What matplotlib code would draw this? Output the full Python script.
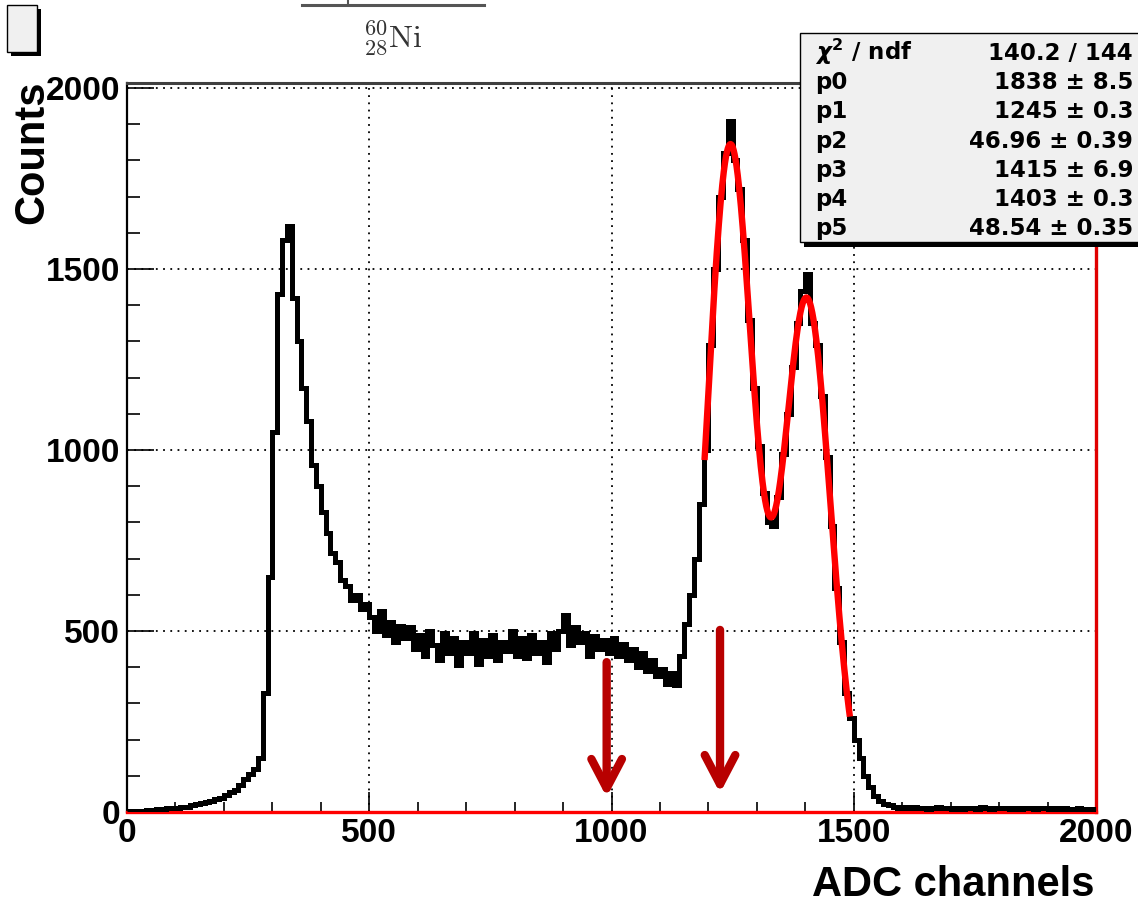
import numpy as np
import matplotlib
matplotlib.use("Agg")
import matplotlib.pyplot as plt
from matplotlib.patches import Rectangle
from matplotlib.lines import Line2D
from matplotlib.ticker import MultipleLocator, FixedLocator

# ---------------- data ----------------
bin_width = 10
counts = [
    3, 2, 4, 3, 6, 5, 8, 7, 10, 12,
    11, 15, 14, 18, 22, 25, 28, 30, 36, 40,
    48, 55, 62, 75, 90, 105, 118, 150, 330, 650,
    1050, 1430, 1580, 1620, 1420, 1300, 1170, 1080, 960, 900,
    830, 770, 715, 690, 640, 625, 585, 600, 560, 575,
    540, 500, 555, 490, 525, 470, 515, 480, 510, 450,
    490, 430, 500, 460, 420, 495, 440, 480, 405, 470,
    440, 495, 410, 475, 430, 490, 420, 470, 445, 500,
    430, 480, 425, 490, 440, 470, 415, 495, 450, 500,
    545, 460, 510, 470, 495, 430, 485, 450, 475, 440,
    480, 430, 465, 420, 450, 400, 440, 390, 420, 375,
    395, 355, 385, 350, 430, 520, 600, 700, 850, 1000,
    1290, 1500, 1700, 1820, 1910, 1800, 1720, 1580, 1360, 1170,
    1010, 880, 800, 790, 870, 990, 1100, 1230, 1350, 1440,
    1485, 1350, 1290, 1150, 980, 790, 620, 470, 330, 260,
    200, 150, 100, 68, 45, 30, 22, 18, 15, 12,
    13, 11, 14, 10, 12, 9, 11, 13, 10, 12,
    9, 11, 8, 12, 10, 9, 13, 10, 8, 11,
    10, 12, 9, 11, 8, 10, 12, 9, 11, 10,
    8, 10, 9, 11, 7, 9, 10, 8, 9, 7,
]
fit_params = [1838, 1245, 46.96, 1415, 1403, 48.54]
fit_range = [1192, 1492]
arrow_x = [990, 1224]
arrow_top = [414, 503]
arrow_tip = [41, 52]
x_ticks = [0, 500, 1000, 1500, 2000]
y_ticks = [0, 500, 1000, 1500, 2000]
stat_labels = [r"$\chi^{2}$ / ndf", "p0", "p1", "p2", "p3", "p4", "p5"]
stat_values = ["140.2 / 144", "1838 \u00b1 8.5", "1245 \u00b1 0.3",
               "46.96 \u00b1 0.39", "1415 \u00b1 6.9", "1403 \u00b1 0.3",
               "48.54 \u00b1 0.35"]
x_title = "ADC channels"
y_title = "Counts"

# ---------------- figure ----------------
W, H = 1138, 906
plt.rcParams["font.family"] = ["Liberation Sans", "DejaVu Sans"]
plt.rcParams["font.weight"] = "bold"

fig = plt.figure(figsize=(W / 100, H / 100), dpi=100)


def fx(x):
    return x / W


def fy(y):
    return 1 - y / H


ax = fig.add_axes([fx(127), fy(812), (1096 - 127) / W, (812 - 83) / H])

edges = np.arange(len(counts) + 1) * bin_width
ax.stairs(counts, edges, color="black", lw=3.6, baseline=None, zorder=3)

p0, p1, p2, p3, p4, p5 = fit_params
xf = np.linspace(fit_range[0], fit_range[1], 500)
yf = p0 * np.exp(-0.5 * ((xf - p1) / p2) ** 2) + p3 * np.exp(-0.5 * ((xf - p4) / p5) ** 2)
ax.plot(xf, yf, color="#ff0000", lw=4.6, zorder=4, solid_capstyle="butt")

for x, t, b in zip(arrow_x, arrow_top, arrow_tip):
    ax.annotate("", xy=(x, b), xytext=(x, t),
                arrowprops=dict(arrowstyle="->,head_length=1.05,head_width=0.55",
                                lw=6, color="#b80000", mutation_scale=20,
                                shrinkA=0, shrinkB=0),
                zorder=5)

ax.set_xlim(0, 2000)
ax.set_ylim(0, 2014)
ax.xaxis.set_major_locator(FixedLocator(x_ticks))
ax.yaxis.set_major_locator(FixedLocator(y_ticks))
ax.xaxis.set_minor_locator(MultipleLocator(100))
ax.yaxis.set_minor_locator(MultipleLocator(100))
ax.set_xticklabels([str(v) for v in x_ticks])
ax.set_yticklabels([str(v) for v in y_ticks])

ax.grid(True, which="major", color="black", linestyle=(0, (1, 3)), lw=1.3)
ax.tick_params(axis="x", which="major", direction="in", length=14.5, width=1.2,
               pad=4, labelsize=24, top=False)
ax.tick_params(axis="x", which="minor", direction="in", length=7, width=1.2, top=False)
ax.tick_params(axis="y", which="major", direction="in", length=19.5, width=1.2,
               pad=5, labelsize=24, right=False)
ax.tick_params(axis="y", which="minor", direction="in", length=9.5, width=1.2, right=False)
for lab in ax.get_xticklabels() + ax.get_yticklabels():
    lab.set_fontweight("bold")

ax.spines["left"].set_linewidth(1.6)
ax.spines["left"].set_color("black")
ax.spines["top"].set_linewidth(2.2)
ax.spines["top"].set_color("#404040")
ax.spines["right"].set_linewidth(2.4)
ax.spines["right"].set_color("#e00000")
ax.spines["bottom"].set_linewidth(2.4)
ax.spines["bottom"].set_color("#ff0000")

# axis titles
fig.text(fx(32), fy(80), y_title, rotation=90, ha="center", va="top",
         fontsize=30, fontweight="bold")
fig.text(fx(1095), fy(905), x_title, ha="right", va="bottom",
         fontsize=30, fontweight="bold")

# top decoration (cropped level scheme)
fig.add_artist(Line2D([fx(302), fx(484)], [fy(5), fy(5)], transform=fig.transFigure,
                      color="#555555", lw=2.2))
fig.add_artist(Line2D([fx(348), fx(348)], [fy(0), fy(5)], transform=fig.transFigure,
                      color="#555555", lw=1.5))
fig.text(fx(393), fy(47), r"$^{60}_{28}\mathrm{Ni}$", ha="center", va="baseline",
         fontsize=23, color="#333333", math_fontfamily="cm")

# top-left small box with shadow
fig.add_artist(Rectangle((fx(11), fy(56)), 30 / W, 47 / H, transform=fig.transFigure,
                         facecolor="black", edgecolor="black", lw=0))
fig.add_artist(Rectangle((fx(7), fy(52)), 30 / W, 47 / H, transform=fig.transFigure,
                         facecolor="#f0f0f0", edgecolor="black", lw=1.0))

# stat box with shadow
fig.add_artist(Rectangle((fx(804), fy(247)), (1145 - 804) / W, (247 - 37) / H,
                         transform=fig.transFigure, facecolor="black", lw=0, zorder=5))
fig.add_artist(Rectangle((fx(800), fy(242)), (1141 - 800) / W, (242 - 33) / H,
                         transform=fig.transFigure, facecolor="#f0f0f0",
                         edgecolor="black", lw=1.0, zorder=6))
baselines = [60 + i * 29.17 for i in range(len(stat_labels))]
for lab, val, b in zip(stat_labels, stat_values, baselines):
    fig.text(fx(815), fy(b), lab, ha="left", va="baseline", fontsize=16.5,
             fontweight="bold", family="DejaVu Sans", zorder=7)
    fig.text(fx(1133), fy(b), val, ha="right", va="baseline", fontsize=16.5,
             fontweight="bold", family="DejaVu Sans", zorder=7)

fig.savefig("out.png", dpi=100)
